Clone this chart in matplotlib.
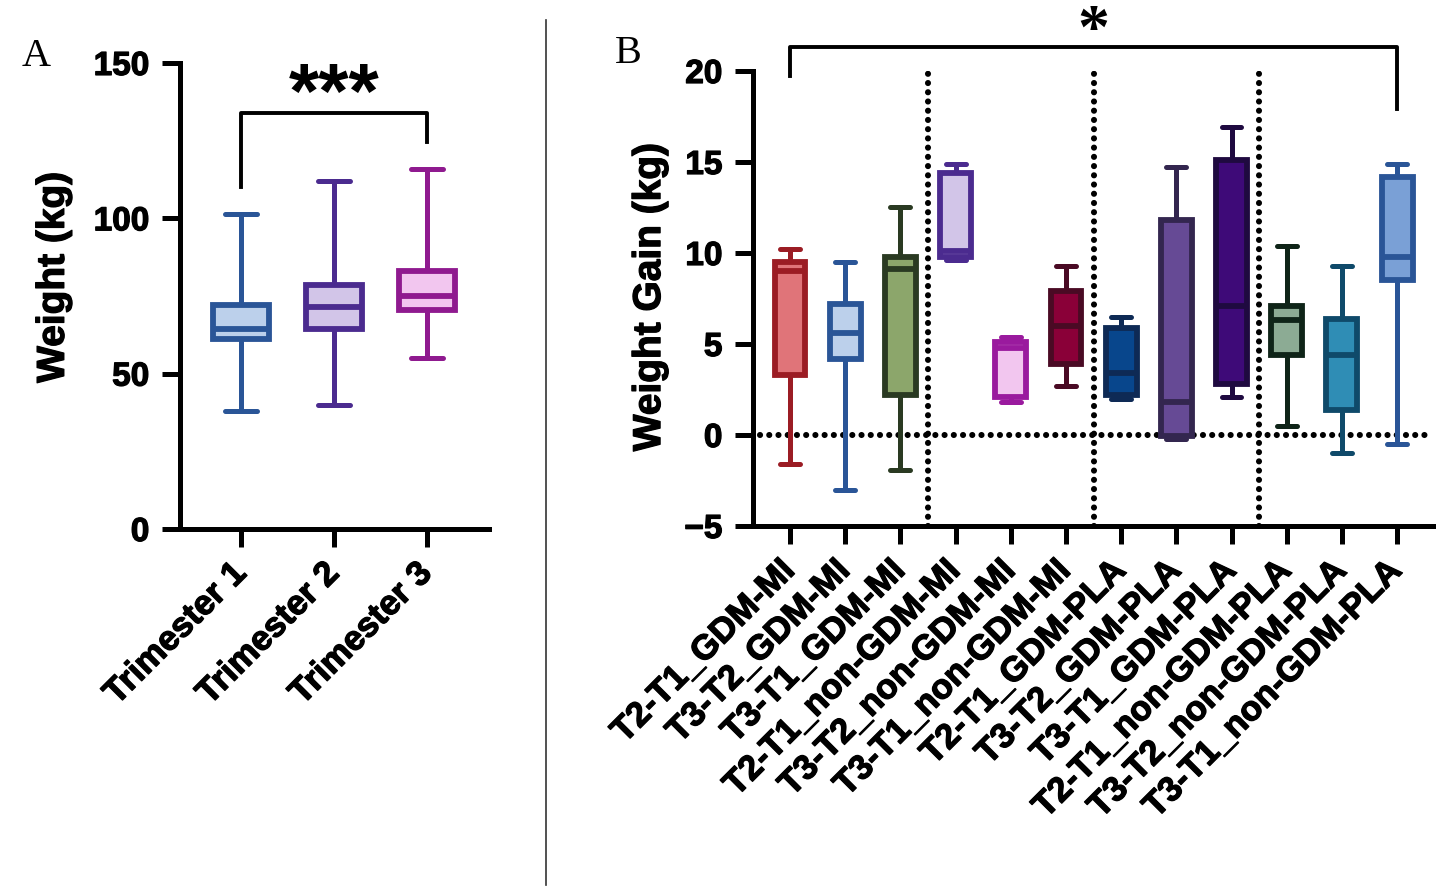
import matplotlib
matplotlib.use("Agg")
import matplotlib.pyplot as plt
import matplotlib.patheffects as pe
from matplotlib.lines import Line2D

plt.rcParams["font.family"] = ["Liberation Sans", "DejaVu Sans"]
plt.rcParams["font.weight"] = "bold"

# ---- panel A: weight by trimester ----
TRIMESTERS = ["Trimester 1", "Trimester 2", "Trimester 3"]
A_LOW = [38, 40, 55]
A_Q1 = [61, 64.5, 70.5]
A_MED = [64.5, 71.5, 75]
A_Q3 = [72, 78.5, 83]
A_HIGH = [101.5, 112, 116]
A_EDGE = ["#2a5597", "#4b2b8f", "#8f1a8f"]
A_FILL = ["#bcd0eb", "#d2c5e8", "#f2c6ef"]

# ---- panel B: weight gain by comparison / group ----
GROUPS = [
    "T2-T1_GDM-MI", "T3-T2_GDM-MI", "T3-T1_GDM-MI",
    "T2-T1_non-GDM-MI", "T3-T2_non-GDM-MI", "T3-T1_non-GDM-MI",
    "T2-T1_GDM-PLA", "T3-T2_GDM-PLA", "T3-T1_GDM-PLA",
    "T2-T1_non-GDM-PLA", "T3-T2_non-GDM-PLA", "T3-T1_non-GDM-PLA",
]
B_LOW = [-1.6, -3.0, -1.9, 9.6, 1.8, 2.7, 2.0, -0.2, 2.1, 0.5, -1.0, -0.5]
B_Q1 = [3.3, 4.2, 2.2, 9.8, 2.1, 3.9, 2.2, -0.05, 2.8, 4.4, 1.4, 8.5]
B_MED = [9.0, 5.6, 9.1, 10.1, 4.8, 6.0, 3.4, 1.8, 7.1, 6.3, 4.4, 9.8]
B_Q3 = [9.5, 7.2, 9.8, 14.4, 5.1, 7.9, 5.9, 11.8, 15.1, 7.1, 6.4, 14.2]
B_HIGH = [10.2, 9.5, 12.5, 14.9, 5.4, 9.3, 6.5, 14.7, 16.9, 10.4, 9.3, 14.9]
B_EDGE = ["#9b1c24", "#2a5597", "#2a3a22", "#4b2b8f", "#9a1a9e", "#4a0a24",
          "#0e2a55", "#33264f", "#1f0a40", "#0f2418", "#0f4a6a", "#2a5597"]
B_FILL = ["#e07479", "#bcd0eb", "#8ca66b", "#d2c5e8", "#f2c6ef", "#8a0038",
          "#08468c", "#664a95", "#3e0a78", "#8cab94", "#2f8db5", "#7aa0d6"]

YTICK_FS = 24
XTICK_FS = 25
LABEL_FS = 28
LW = 3.6
DOT = (0, (0.01, 1.5))
HEAVY = [pe.withStroke(linewidth=0.9, foreground="black")]


def make_stats(lo, q1, med, q3, hi):
    return [dict(whislo=a, q1=b, med=c, q3=d, whishi=e, fliers=[])
            for a, b, c, d, e in zip(lo, q1, med, q3, hi)]


def draw_boxes(ax, stats, edges, fills, width, capwidth):
    pos = list(range(len(stats)))
    art = ax.bxp(stats, positions=pos, widths=width, capwidths=capwidth,
                 patch_artist=True, showfliers=False)
    for i, box in enumerate(art["boxes"]):
        box.set_facecolor(fills[i])
        box.set_edgecolor(edges[i])
        box.set_linewidth(4.2)
        box.set_zorder(3)
        art["medians"][i].set_color(edges[i])
        art["medians"][i].set_linewidth(4.2)
        art["medians"][i].set_zorder(4)
        for ln in art["whiskers"][2 * i:2 * i + 2] + art["caps"][2 * i:2 * i + 2]:
            ln.set_color(edges[i])
            ln.set_linewidth(LW)
            ln.set_solid_capstyle("round")
            ln.set_zorder(2)


def style_axis(ax):
    for s in ["top", "right"]:
        ax.spines[s].set_visible(False)
    for s in ["left", "bottom"]:
        ax.spines[s].set_linewidth(3.6)
    ax.tick_params(width=3.6, length=13)
    ax.tick_params(axis="y", labelsize=YTICK_FS, pad=9)
    ax.tick_params(axis="x", labelsize=XTICK_FS, pad=15)
    for lab in ax.get_xticklabels():
        lab.set_rotation(45)
        lab.set_ha("right")
        lab.set_va("center")
        lab.set_rotation_mode("anchor")
        lab.set_fontweight("bold")
        lab.set_path_effects(HEAVY)
    for lab in ax.get_yticklabels():
        lab.set_fontweight("bold")
        lab.set_path_effects(HEAVY)
    ax.yaxis.label.set_path_effects(HEAVY)


fig = plt.figure(figsize=(14.41, 8.93), dpi=100)

# panel A
axA = fig.add_axes([0.1249, 0.4076, 0.2144, 0.5219])
draw_boxes(axA, make_stats(A_LOW, A_Q1, A_MED, A_Q3, A_HIGH), A_EDGE, A_FILL, 0.6, 0.34)
axA.set_xlim(-0.66, 2.67)
axA.set_ylim(0, 150)
axA.set_yticks([0, 50, 100, 150])
axA.set_xticks(range(len(TRIMESTERS)))
axA.set_xticklabels(TRIMESTERS)
axA.set_ylabel("Weight (kg)", fontsize=LABEL_FS, fontweight="bold")
axA.yaxis.set_label_coords(-0.35, 0.54)
style_axis(axA)
axA.plot([0, 0, 2, 2], [110, 133.8, 133.8, 124.6], color="black", lw=2.8, clip_on=False)
axA.text(1, 139, "***", ha="center", va="center", fontsize=56, fontweight="bold")

# panel B
axB = fig.add_axes([0.5226, 0.411, 0.4718, 0.5095])
axB.axhline(0, xmin=(-0.54 + 0.67) / 12.32, xmax=(11.56 + 0.67) / 12.32,
            color="black", lw=4.4, linestyle=DOT, dash_capstyle="round", zorder=1)
for xv in [2.5, 5.5, 8.5]:
    axB.axvline(xv, color="black", lw=4.4, linestyle=DOT, dash_capstyle="round", zorder=1)
draw_boxes(axB, make_stats(B_LOW, B_Q1, B_MED, B_Q3, B_HIGH), B_EDGE, B_FILL, 0.56, 0.36)
axB.set_xlim(-0.67, 11.65)
axB.set_ylim(-5, 20)
axB.set_yticks([-5, 0, 5, 10, 15, 20])
axB.set_xticks(range(len(GROUPS)))
axB.set_xticklabels(GROUPS)
axB.set_ylabel("Weight Gain (kg)", fontsize=LABEL_FS, fontweight="bold")
axB.yaxis.set_label_coords(-0.125, 0.503)
style_axis(axB)
axB.plot([0, 0, 11, 11], [19.7, 21.3, 21.3, 17.9], color="black", lw=2.8, clip_on=False)
axB.text(5.5, 22.1, "*", ha="center", va="center", fontsize=46, fontweight="bold",
         family=["Liberation Serif"])

# panel letters and divider
fig.text(0.0153, 0.937, "A", fontsize=29, family=["Liberation Serif"],
         fontweight="normal", va="center")
fig.text(0.4268, 0.940, "B", fontsize=29, family=["Liberation Serif"],
         fontweight="normal", va="center")
fig.add_artist(Line2D([546 / 1441, 546 / 1441], [1 - 20 / 893, 1 - 885 / 893],
                      color="#333333", lw=1.2))

fig.savefig("out.png", dpi=100)
